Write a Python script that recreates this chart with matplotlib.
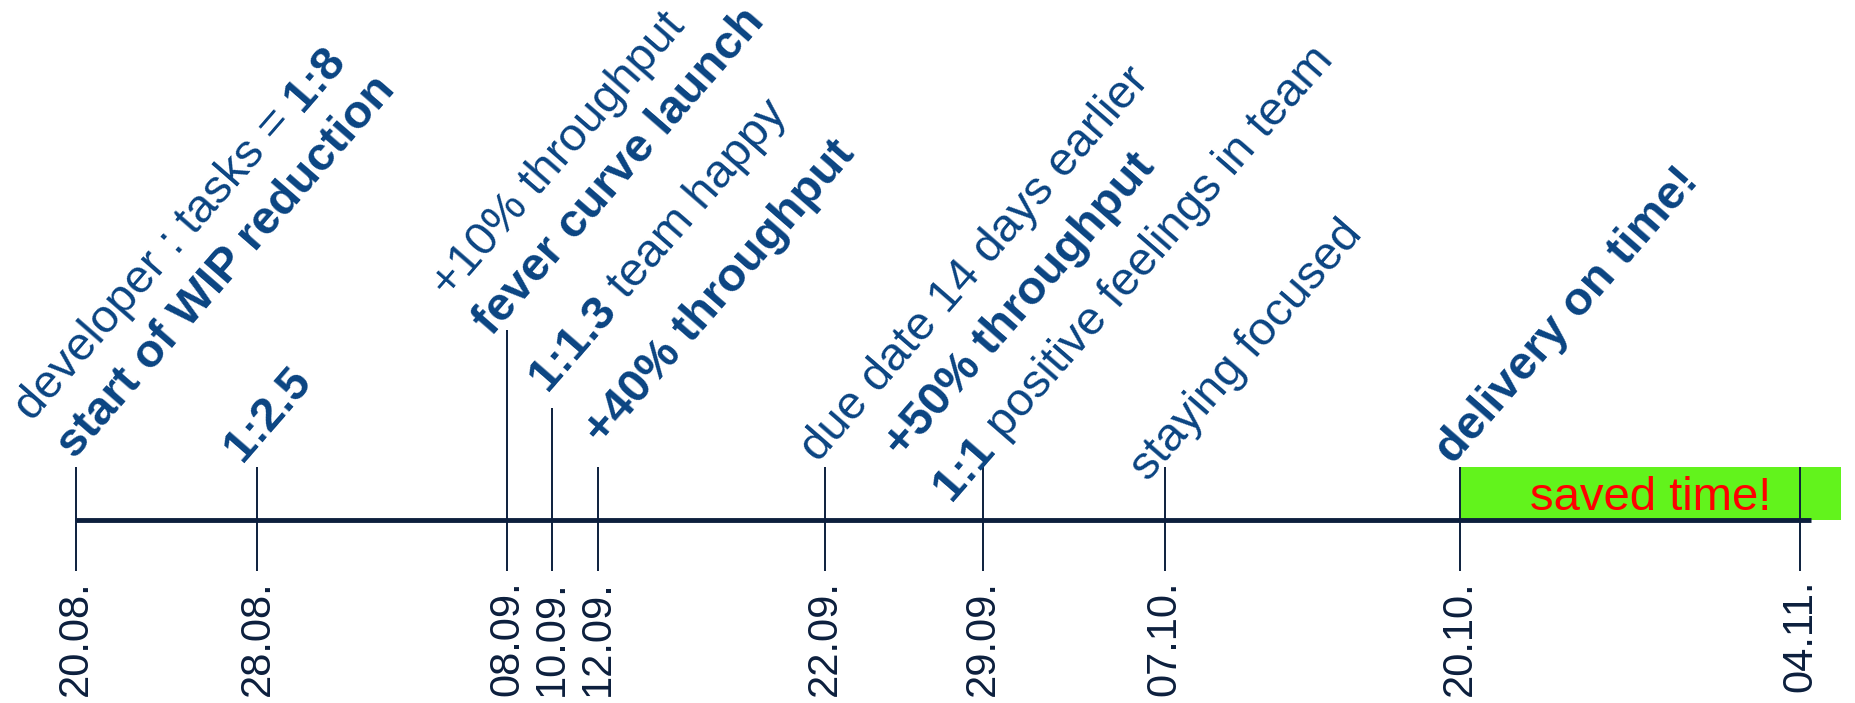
import re
import matplotlib
matplotlib.use("Agg")
import matplotlib.pyplot as plt
import matplotlib.dates as mdates
from matplotlib.patches import Rectangle
from matplotlib.transforms import offset_copy
import numpy as np
import pandas as pd

# milestones of the project
dates = pd.to_datetime(["2015-08-20", "2015-08-28", "2015-09-08", "2015-09-10", "2015-09-12",
                        "2015-09-22", "2015-09-29", "2015-10-07", "2015-10-20", "2015-11-04"])
tick_labels = ["20.08.", "28.08.", "08.09.", "10.09.", "12.09.",
               "22.09.", "29.09.", "07.10.", "20.10.", "04.11."]

# notes per milestone, top line first, **bold** parts marked
notes = [
    ["developer : tasks = **1:8**", "**start of WIP reduction**"],
    ["**1:2.5**"],
    ["+10% throughput", "**fever curve launch**"],
    ["**1:1.3** team happy"],
    ["**+40% throughput**"],
    ["due date 14 days earlier"],
    ["**+50% throughput**", "**1:1** positive feelings in team"],
    ["staying focused"],
    ["**delivery on time!**"],
    [],
]
saved_label = "saved time!"
delivery_idx = 8

# layout / style
FONT = "Liberation Sans"
NAVY = "#0c1f3d"
BLUE = "#0a4482"
GREEN = "#62f31c"
FS = 34
ANGLE = 49
AXIS_Y, STEM_BOTTOM = 520, 571
stem_top = [467, 467, 330, 408, 467, 467, 467, 467, 467, 467]
note_offset = [(-1, -7), (-15, -4), (-15, 7), (-5, -16), (5, -21),
               (-6, -4), (-32, 35), (-16, 15), (-6, -2), (0, 0)]
line_gap = [57, 57, 57, 57, 57, 57, 65, 57, 57, 57]

fig = plt.figure(figsize=(18.56, 7.03), dpi=100)
ax = fig.add_axes([0, 0, 1, 1])
xs = mdates.date2num(dates)
ax.set_xlim(xs[0] - 3.35, xs[-1] + 2.47)
ax.set_ylim(703, 0)
ax.axis("off")

# green "saved time" box
ax.add_patch(Rectangle((xs[delivery_idx], 467), xs[-1] + 1.8 - xs[delivery_idx], AXIS_Y - 467,
                       facecolor=GREEN, edgecolor="none", zorder=1))
ax.text((xs[delivery_idx] + xs[-1]) / 2 + 0.9, 510, saved_label, ha="center", va="baseline",
        fontsize=FS, color="red", family=FONT, zorder=5)

# time line and stems
ax.plot([xs[0], xs[-1] + 0.5], [AXIS_Y, AXIS_Y], color=NAVY, lw=3.5, solid_capstyle="butt", zorder=3)
ax.vlines(xs, stem_top, STEM_BOTTOM, color=NAVY, lw=1.4, zorder=2)
for x, lab in zip(xs, tick_labels):
    ax.text(x, 580, lab, rotation=90, ha="center", va="top", fontsize=30, color=NAVY, family=FONT)

renderer = fig.canvas.get_renderer()


def text_width(s, bold):
    w = "bold" if bold else "normal"
    t1 = ax.text(0, 0, "|" + s + "|", fontsize=FS, weight=w, family=FONT)
    t2 = ax.text(0, 0, "||", fontsize=FS, weight=w, family=FONT)
    width = t1.get_window_extent(renderer).width - t2.get_window_extent(renderer).width
    t1.remove()
    t2.remove()
    return width


ca, sa = np.cos(np.radians(ANGLE)), np.sin(np.radians(ANGLE))

for i, lines in enumerate(notes):
    dx, dy = note_offset[i]
    for k, line in enumerate(reversed(lines)):
        bx = dx - k * line_gap[i] * sa
        by = -dy + k * line_gap[i] * ca
        pos = 0
        for j, chunk in enumerate(re.split(r"\*\*", line)):
            if not chunk:
                continue
            bold = j % 2 == 1
            lead = len(chunk) - len(chunk.lstrip())
            if lead:
                pos += text_width(" " * lead, bold)
            body = chunk.lstrip()
            tr = offset_copy(ax.transData, fig=fig, x=bx + pos * ca, y=by + pos * sa, units="dots")
            ax.text(xs[i], stem_top[i], body.rstrip(), transform=tr, rotation=ANGLE,
                    rotation_mode="anchor", ha="left", va="baseline", fontsize=FS,
                    weight="bold" if bold else "normal", color=BLUE, family=FONT, zorder=4)
            pos += text_width(body, bold)

fig.savefig("out.png", dpi=100)
